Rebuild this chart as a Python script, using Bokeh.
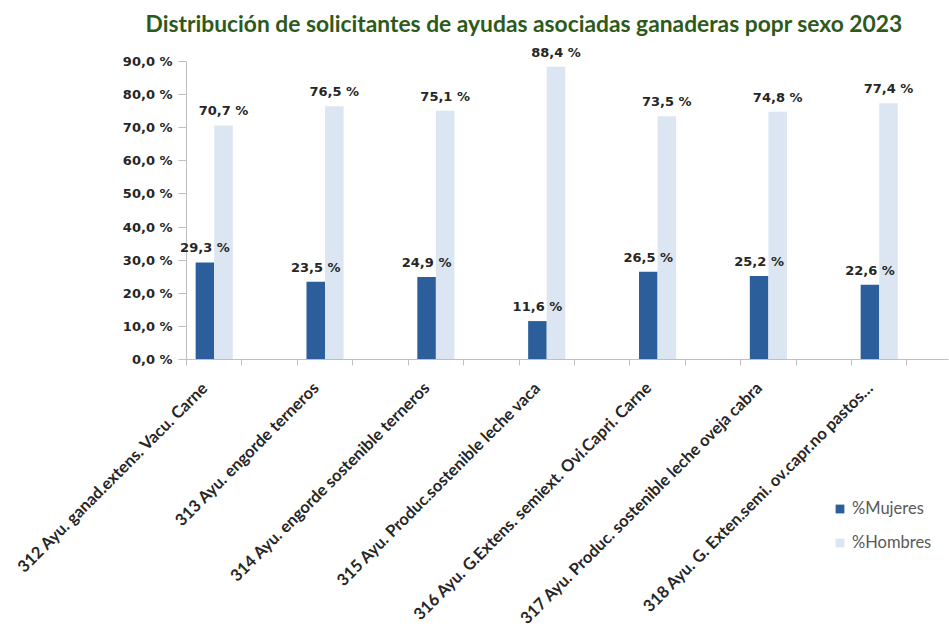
import math
from bokeh.plotting import figure
from bokeh.models import Range1d, FixedTicker, ColumnDataSource, LabelSet, Legend, LegendItem
from bokeh.core.properties import value
from bokeh.embed import file_html
from bokeh.resources import INLINE

title = "Distribución de solicitantes de ayudas asociadas ganaderas popr sexo 2023"
categories = [
    "312 Ayu. ganad.extens. Vacu. Carne",
    "313 Ayu. engorde terneros",
    "314 Ayu. engorde sostenible terneros",
    "315 Ayu. Produc.sostenible leche vaca",
    "316 Ayu. G.Extens. semiext. Ovi.Capri. Carne",
    "317 Ayu. Produc. sostenible leche oveja cabra",
    "318 Ayu. G. Exten.semi. ov.capr.no pastos…",
]
mujeres = [29.3, 23.5, 24.9, 11.6, 26.5, 25.2, 22.6]
hombres = [70.7, 76.5, 75.1, 88.4, 73.5, 74.8, 77.4]
series_names = ["%Mujeres", "%Hombres"]
y_ticks = [0, 10, 20, 30, 40, 50, 60, 70, 80, 90]


def fmt(v):
    return f"{v:.1f}".replace(".", ",") + " %"


C_M = "#2b5e9b"
C_H = "#dce6f2"
AX = "#bfbfbf"
TXT = "#262626"

# layout: plot area spans x 0..13.75 (two slots per category), y 0..90
X_MIN, X_MAX = 0, 13.75
PX_X = 762 / (X_MAX - X_MIN)      # pixels per x unit
PX_Y = 298 / 90                    # pixels per y unit
LEFT, TOP, W, H = 186, 40, 949, 633
Y0_PX = 359

centers = [2 * i + 0.5 for i in range(len(categories))]
bw = 0.335
label_shift = 0.163

src_m = ColumnDataSource(dict(x=[c - bw / 2 for c in centers], top=mujeres,
                              lab=[fmt(v) for v in mujeres]))
src_h = ColumnDataSource(dict(x=[c + bw / 2 for c in centers], top=hombres,
                              lab=[fmt(v) for v in hombres]))

x_range = Range1d(X_MIN - LEFT / PX_X, X_MIN + (W - LEFT) / PX_X)
y_range = Range1d(-(H - Y0_PX) / PX_Y, (Y0_PX - TOP) / PX_Y)

p = figure(width=W, height=H, output_backend="svg", toolbar_location=None,
           x_range=x_range, y_range=y_range,
           min_border_left=0, min_border_right=0, min_border_top=TOP,
           min_border_bottom=0)
p.outline_line_color = None
p.xgrid.visible = False
p.ygrid.visible = False

p.title.text = title
p.title.align = "left"
p.title.offset = 145
p.title.text_font = "Lato"
p.title.text_font_style = "bold"
p.title.text_font_size = "22.8px"
p.title.text_color = "#2d5a1b"
p.title.standoff = 7

r_m = p.vbar(x="x", top="top", width=bw, bottom=0, source=src_m,
             fill_color=C_M, line_color=None)
r_h = p.vbar(x="x", top="top", width=bw, bottom=0, source=src_h,
             fill_color=C_H, line_color=None)

for src in (src_m, src_h):
    p.add_layout(LabelSet(x="x", y="top", text="lab", source=src,
                          text_align="center", text_baseline="bottom",
                          y_offset=7, text_font=value("DejaVu Sans"),
                          text_font_style="bold", text_font_size=value("13px"),
                          text_color=TXT))

# y axis, drawn at x = 0
ya = p.yaxis[0]
ya.fixed_location = X_MIN
ya.ticker = FixedTicker(ticks=y_ticks)
ya.bounds = (y_ticks[0], y_ticks[-1])
ya.major_label_overrides = {t: fmt(t) for t in y_ticks}
ya.major_label_text_font = "DejaVu Sans"
ya.major_label_text_font_style = "bold"
ya.major_label_text_font_size = "13px"
ya.major_label_text_color = TXT
ya.major_tick_out = 8
ya.major_tick_in = 0
ya.minor_tick_out = 0
ya.minor_tick_in = 0
ya.axis_line_color = AX
ya.major_tick_line_color = AX
ya.major_label_standoff = 6

# x axis, drawn at y = 0
label_pos = [c - label_shift for c in centers]
xa = p.xaxis[0]
xa.fixed_location = 0
xa.bounds = (X_MIN, X_MAX)
xa.ticker = FixedTicker(ticks=label_pos, minor_ticks=list(range(14)))
xa.major_label_overrides = {c: n for c, n in zip(label_pos, categories)}
xa.major_label_orientation = math.pi / 4
xa.major_label_text_font = "Lato"
xa.major_label_text_font_style = "bold"
xa.major_label_text_font_size = "16.5px"
xa.major_label_text_color = TXT
xa.major_tick_out = 0
xa.major_tick_in = 0
xa.minor_tick_out = 6
xa.minor_tick_in = 0
xa.minor_tick_line_color = AX
xa.axis_line_color = AX
xa.major_label_standoff = 19

legend = Legend(items=[LegendItem(label=series_names[0], renderers=[r_m]),
                       LegendItem(label=series_names[1], renderers=[r_h])],
                location=(834, 81), padding=0, margin=0, spacing=14,
                glyph_width=11, glyph_height=11, label_height=20,
                label_standoff=7, label_text_font="Lato",
                label_text_font_size="16.5px", label_text_color="#595959",
                border_line_color=None, background_fill_alpha=0)
p.add_layout(legend)

open("out.html", "w").write(file_html(p, INLINE))
